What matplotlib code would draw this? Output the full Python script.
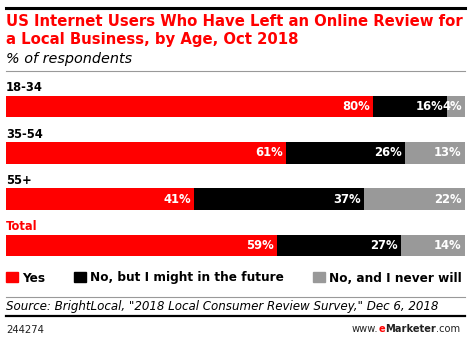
import matplotlib.pyplot as plt
from matplotlib.patches import Rectangle
from matplotlib.lines import Line2D

# Data
groups = ["18-34", "35-54", "55+", "Total"]
yes = [80, 61, 41, 59]
maybe = [16, 26, 37, 27]
never = [4, 13, 22, 14]
series_names = ["Yes", "No, but I might in the future", "No, and I never will"]
colors = ["#ff0000", "#000000", "#999999"]

W, H = 471, 337
fig = plt.figure(figsize=(W / 100, H / 100), dpi=100)
plt.rcParams['font.family'] = ['DejaVu Sans']


def fx(x):
    return x / W


def fy(y):
    return 1 - y / H


# Title block
fig.add_artist(Line2D([fx(6), fx(465)], [fy(7.5), fy(7.5)], color="black", lw=2.2))
fig.text(fx(6), fy(26.5), "US Internet Users Who Have Left an Online Review for",
         color="#ff0000", fontsize=10.7, fontweight="bold", va="baseline")
fig.text(fx(6), fy(44), "a Local Business, by Age, Oct 2018",
         color="#ff0000", fontsize=10.7, fontweight="bold", va="baseline")
fig.text(fx(6), fy(63), "% of respondents", color="black", fontsize=10.4,
         style="italic", va="baseline")
fig.add_artist(Line2D([fx(6), fx(465)], [fy(70.5), fy(70.5)], color="#999999", lw=0.8))

# Bars
top, bottom = 83.3, 268.7
ax = fig.add_axes([fx(6), fy(bottom), fx(459), (bottom - top) / H])
pos = list(range(len(groups)))
bh = 0.47
left = [0] * len(groups)
for vals, c in zip([yes, maybe, never], colors):
    ax.barh(pos, vals, left=left, height=bh, color=c)
    for i, v in enumerate(vals):
        ax.text(left[i] + v - 0.7, i, f"{v}%", color="white", fontsize=8.4,
                fontweight="bold", ha="right", va="center")
    left = [l + v for l, v in zip(left, vals)]

for i, g in enumerate(groups):
    ax.text(0, i - bh / 2 - 0.09, g, color="#ff0000" if g == "Total" else "black",
            fontsize=8.3, fontweight="bold", ha="left", va="baseline")

ax.set_xlim(0, 100)
ax.set_ylim(3.5, -0.5)
ax.axis("off")

# Legend
leg_x = [6, 74, 313]
for x0, name, c in zip(leg_x, series_names, colors):
    fig.add_artist(Rectangle((fx(x0), fy(282)), fx(11.5), 10.5 / H, color=c))
    fig.text(fx(x0 + 16), fy(281.5), name, fontsize=8.7, fontweight="bold",
             va="baseline")

# Footer
fig.add_artist(Line2D([fx(6), fx(465)], [fy(296.5), fy(296.5)], color="#999999", lw=0.8))
fig.text(fx(6), fy(310), 'Source: BrightLocal, "2018 Local Consumer Review Survey," Dec 6, 2018',
         fontsize=8.55, style="italic", va="baseline")
fig.add_artist(Line2D([fx(6), fx(465)], [fy(315.5), fy(315.5)], color="black", lw=1.6))
fig.text(fx(6), fy(333), "244274", fontsize=7.2, va="baseline", color="#222222")

# www.eMarketer.com, built right to left
renderer = fig.canvas.get_renderer()
parts = [(".com", "normal", "#222222"), ("Marketer", "bold", "#222222"),
         ("e", "bold", "#ff0000"), ("www.", "normal", "#222222")]
xr = 460
for s, wt, c in parts:
    t = fig.text(fx(xr), fy(332), s, fontsize=7.15, fontweight=wt, color=c,
                 va="baseline", ha="right")
    xr -= t.get_window_extent(renderer).width

fig.savefig("out.png", dpi=100)
